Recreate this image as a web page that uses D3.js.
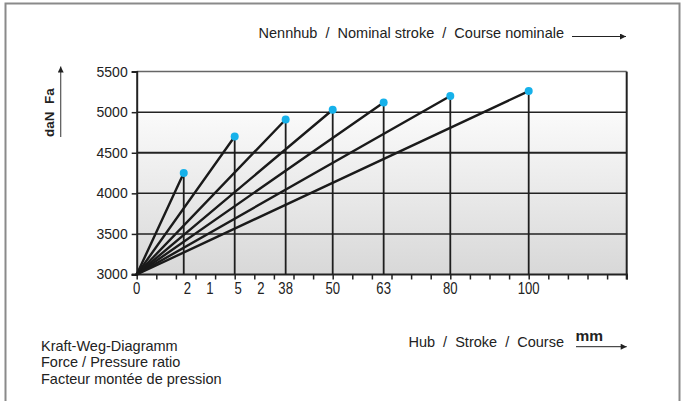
<!DOCTYPE html>
<html>
<head>
<meta charset="utf-8">
<script src="https://cdn.jsdelivr.net/npm/d3@7/dist/d3.min.js"></script>
<style>
  html, body { margin: 0; padding: 0; background: #fff; }
  svg { display: block; }
  text { font-family: "Liberation Sans", Arial, Helvetica, sans-serif; fill: #222; white-space: pre; }
</style>
</head>
<body>
<svg id="chart" width="686" height="401"></svg>
<script>
// ---- data ----
const strokes = [12, 25, 38, 50, 63, 80, 100];           // mm (nominal stroke)
const forces  = [4250, 4700, 4910, 5030, 5120, 5200, 5260]; // daN at end of stroke
const yTicks = [3000, 3500, 4000, 4500, 5000, 5500];
const xLabelText = ["0", "2", "1", "5", "2", "38", "50", "63", "80", "100"];
const xLabelPos  = [0, 12.9, 18.7, 25.9, 31.7, 38, 50, 63, 80, 100];
const xDomain = [0, 125];
const yDomain = [3000, 5500];
const xMinorStep = 5;

const svg = d3.select("#chart");
const pLeft = 136.7, pRight = 626.7, pTop = 71.6, pBottom = 274.5;

const x = d3.scaleLinear().domain(xDomain).range([pLeft, pRight]);
const y = d3.scaleLinear().domain(yDomain).range([pBottom, pTop]);

// outer frame
svg.append("rect").attr("x", 5.5).attr("y", 3.5).attr("width", 674).attr("height", 420)
  .attr("fill", "none").attr("stroke", "#8a8a8a").attr("stroke-width", 2);

// gradient background
const defs = svg.append("defs");
const grad = defs.append("linearGradient").attr("id", "bg")
  .attr("x1", 0).attr("y1", 0).attr("x2", 0).attr("y2", 1);
grad.append("stop").attr("offset", 0).attr("stop-color", "#ffffff");
grad.append("stop").attr("offset", 0.2).attr("stop-color", "#ffffff");
grad.append("stop").attr("offset", 0.21).attr("stop-color", "#fafafa");
grad.append("stop").attr("offset", 1).attr("stop-color", "#d8d8d8");
defs.append("marker").attr("id", "arr").attr("viewBox", "0 0 10 10")
  .attr("refX", 10).attr("refY", 5).attr("markerWidth", 8).attr("markerHeight", 6)
  .attr("markerUnits", "userSpaceOnUse").attr("orient", "auto")
  .append("path").attr("d", "M0,0 L10,5 L0,10 Z").attr("fill", "#222");

svg.append("rect").attr("x", x(xDomain[0])).attr("y", y(yDomain[1]))
  .attr("width", x(xDomain[1]) - x(xDomain[0])).attr("height", y(yDomain[0]) - y(yDomain[1]))
  .attr("fill", "url(#bg)");

// horizontal gridlines
svg.append("g").selectAll("line").data(yTicks.slice(1)).join("line")
  .attr("x1", x(0)).attr("x2", x(xDomain[1]))
  .attr("y1", d => y(d)).attr("y2", d => y(d))
  .attr("stroke", d => d === 5500 ? "#666" : "#222")
  .attr("stroke-width", d => d === 4500 ? 2 : 1.5);

// y axis
const yAxis = d3.axisLeft(y).tickValues(yTicks).tickSize(5).tickPadding(4).tickFormat(d3.format("d"));
const gy = svg.append("g").attr("transform", `translate(${x(0)},0)`).call(yAxis);
gy.select(".domain").attr("stroke", "#222").attr("stroke-width", 2);
gy.selectAll(".tick line").attr("stroke", "#222").attr("stroke-width", 1.5);
gy.selectAll(".tick text").attr("font-size", 14).attr("font-family", "Liberation Sans, Arial, sans-serif").attr("fill", "#222");

// right border
svg.append("line").attr("x1", x(xDomain[1])).attr("x2", x(xDomain[1]))
  .attr("y1", y(yDomain[1])).attr("y2", y(yDomain[0]) + 5)
  .attr("stroke", "#222").attr("stroke-width", 2);

// x axis minor ticks
const xAxis = d3.axisBottom(x).tickValues(d3.range(xDomain[0], xDomain[1] + 0.01, xMinorStep))
  .tickSize(5).tickFormat("");
const gx = svg.append("g").attr("transform", `translate(0,${y(yDomain[0])})`).call(xAxis);
gx.select(".domain").remove();
gx.selectAll(".tick line").attr("stroke", "#222").attr("stroke-width", 1.5);
svg.append("line").attr("x1", x(0) - 5).attr("x2", x(xDomain[1]) + 1)
  .attr("y1", y(yDomain[0])).attr("y2", y(yDomain[0]))
  .attr("stroke", "#222").attr("stroke-width", 2);

// x labels (condensed look)
svg.append("g").selectAll("text").data(xLabelText).join("text")
  .attr("transform", (d, i) => `translate(${x(xLabelPos[i])},294) scale(0.82,1)`)
  .attr("text-anchor", "middle")
  .attr("font-size", 16).text(d => d);

// vertical stroke lines
svg.append("g").selectAll("line").data(strokes).join("line")
  .attr("x1", d => x(d)).attr("x2", d => x(d))
  .attr("y1", (d, i) => y(forces[i])).attr("y2", y(yDomain[0]))
  .attr("stroke", "#1e1e1e").attr("stroke-width", 1.8);

// diagonal lines
svg.append("g").selectAll("line").data(strokes).join("line")
  .attr("x1", x(0)).attr("y1", y(yDomain[0]))
  .attr("x2", d => x(d)).attr("y2", (d, i) => y(forces[i]))
  .attr("stroke", "#1a1a1a").attr("stroke-width", 2.4).attr("stroke-linecap", "round");

// dots
svg.append("g").selectAll("circle").data(strokes).join("circle")
  .attr("cx", d => x(d)).attr("cy", (d, i) => y(forces[i])).attr("r", 4)
  .attr("fill", "#16b1ea");

// y-axis title
svg.append("text").attr("transform", "translate(53.5,137) rotate(-90)")
  .attr("font-weight", "bold").attr("font-size", 13.5).text("daN  Fa");
svg.append("line").attr("x1", 60.7).attr("x2", 60.7).attr("y1", 137).attr("y2", 66.5)
  .attr("stroke", "#555").attr("stroke-width", 1.2).attr("marker-end", "url(#arr)");

// top label
svg.append("text").attr("x", 564).attr("y", 38).attr("text-anchor", "end")
  .attr("font-size", 14.5).text("Nennhub  /  Nominal stroke  /  Course nominale");
svg.append("line").attr("x1", 572).attr("x2", 626).attr("y1", 36.5).attr("y2", 36.5)
  .attr("stroke", "#222").attr("stroke-width", 1).attr("marker-end", "url(#arr)");

// bottom axis label
svg.append("text").attr("x", 564).attr("y", 346.7).attr("text-anchor", "end")
  .attr("font-size", 14.5).text("Hub  /  Stroke  /  Course");
svg.append("text").attr("x", 575.5).attr("y", 340.7)
  .attr("font-size", 15.5).attr("font-weight", "bold").text("mm");
svg.append("line").attr("x1", 576).attr("x2", 626.7).attr("y1", 346.7).attr("y2", 346.7)
  .attr("stroke", "#222").attr("stroke-width", 1).attr("marker-end", "url(#arr)");

// caption
const caption = ["Kraft-Weg-Diagramm", "Force / Pressure ratio", "Facteur montée de pression"];
svg.append("g").selectAll("text").data(caption).join("text")
  .attr("x", 41).attr("y", (d, i) => 350.7 + i * 16.4)
  .attr("font-size", 14.5).text(d => d);
</script>
</body>
</html>
